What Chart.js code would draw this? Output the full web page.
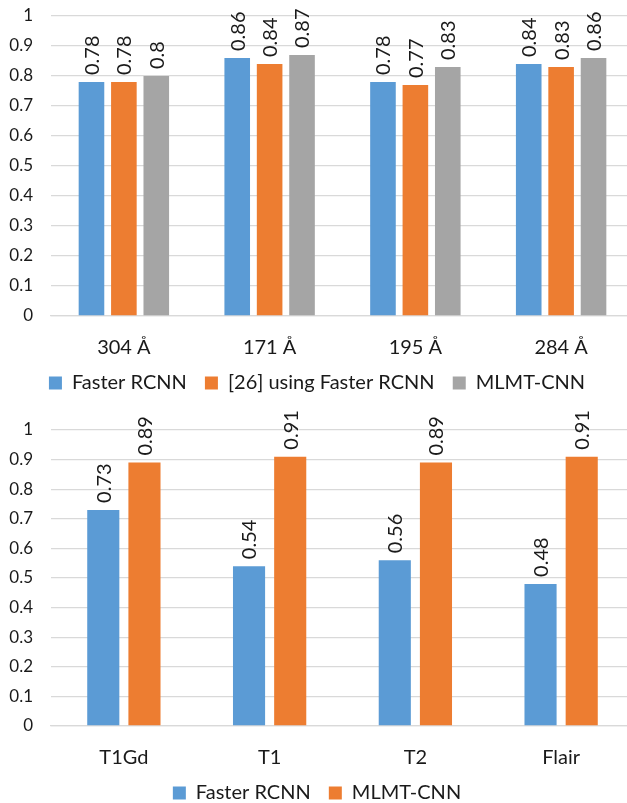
<!DOCTYPE html>
<html>
<head>
<meta charset="utf-8">
<script src="https://cdn.jsdelivr.net/npm/chart.js@4"></script>
<style>
  html, body { margin: 0; padding: 0; background: #fff; overflow: hidden; width: 627px; height: 803px; }
  .box { position: absolute; left: 0; width: 634px; }
  #top { top: 0; height: 403px; }
  #bottom { top: 403px; height: 410px; }
</style>
</head>
<body>
<div class="box" id="top"><canvas id="chart1"></canvas></div>
<div class="box" id="bottom"><canvas id="chart2"></canvas></div>
<script>
// top chart: wavelengths
const wavelengths = ['304 Å', '171 Å', '195 Å', '284 Å'];
const fasterTop = [0.78, 0.86, 0.78, 0.84];
const ref26Top = [0.78, 0.84, 0.77, 0.83];
const mlmtTop = [0.8, 0.87, 0.83, 0.86];

// bottom chart: MRI modalities
const modalities = ['T1Gd', 'T1', 'T2', 'Flair'];
const fasterBottom = [0.73, 0.54, 0.56, 0.48];
const mlmtBottom = [0.89, 0.91, 0.89, 0.91];

const yTicks = [0, 0.1, 0.2, 0.3, 0.4, 0.5, 0.6, 0.7, 0.8, 0.9, 1];

const BLUE = '#5b9bd5', ORANGE = '#ed7d31', GRAY = '#a5a5a5';
const FONT = 'Lato, "Open Sans", sans-serif';
const TEXT = '#1a1a1a';

// rotated value labels above each bar
const valueLabels = {
  id: 'valueLabels',
  afterDatasetsDraw(chart) {
    const ctx = chart.ctx;
    ctx.save();
    ctx.font = '20px ' + FONT;
    ctx.fillStyle = TEXT;
    ctx.textAlign = 'left';
    ctx.textBaseline = 'middle';
    chart.data.datasets.forEach((ds, i) => {
      chart.getDatasetMeta(i).data.forEach((bar, j) => {
        ctx.save();
        ctx.translate(bar.x, bar.y - 7);
        ctx.rotate(-Math.PI / 2);
        ctx.fillText(String(ds.data[j]), 0, 1);
        ctx.restore();
      });
    });
    ctx.restore();
  }
};

// legend items, with a little extra room after all but the last one
function legendItems(chart) {
  const items = Chart.defaults.plugins.legend.labels.generateLabels(chart);
  items.forEach((it, i) => { if (i < items.length - 1) it.text += ' '; });
  return items;
}

function makeChart(id, labels, datasets, padTop, catPct, barPct) {
  return new Chart(document.getElementById(id), {
    type: 'bar',
    data: {
      labels: labels,
      datasets: datasets.map(d => ({
        label: d[0], data: d[1], backgroundColor: d[2],
        borderWidth: 0,
        categoryPercentage: catPct, barPercentage: barPct
      }))
    },
    options: {
      responsive: true,
      maintainAspectRatio: false,
      animation: false,
      layout: { padding: { top: padTop, left: 0, right: 0, bottom: 0 } },
      plugins: {
        tooltip: { enabled: false },
        legend: {
          position: 'bottom',
          labels: {
            font: { family: FONT, size: 20 },
            color: TEXT,
            boxWidth: 13, boxHeight: 13,
            padding: 13,
            generateLabels: legendItems
          }
        }
      },
      scales: {
        x: {
          grid: { display: false, drawTicks: false },
          border: { display: true, color: '#d9d9d9', width: 1.3 },
          ticks: { font: { family: FONT, size: 20 }, color: TEXT, padding: 20 },
          afterFit: s => { s.height = 44; }
        },
        y: {
          min: 0, max: 1,
          afterBuildTicks: s => { s.ticks = yTicks.map(v => ({ value: v })); },
          grid: { color: '#d9d9d9', lineWidth: 1.3, drawTicks: false },
          border: { display: false },
          ticks: { font: { family: FONT, size: 17 }, color: TEXT, padding: 18,
                   callback: v => String(Math.round(v * 10) / 10) },
          afterFit: s => { s.width = 51; s.paddingTop = 0; s.paddingBottom = 0; }
        }
      }
    },
    plugins: [valueLabels]
  });
}

makeChart('chart1', wavelengths, [
  ['Faster RCNN', fasterTop, BLUE],
  ['[26] using Faster RCNN', ref26Top, ORANGE],
  ['MLMT-CNN', mlmtTop, GRAY]
], 16, 0.667, 0.79);

makeChart('chart2', modalities, [
  ['Faster RCNN', fasterBottom, BLUE],
  ['MLMT-CNN', mlmtBottom, ORANGE]
], 27, 0.565, 0.78);
</script>
</body>
</html>
